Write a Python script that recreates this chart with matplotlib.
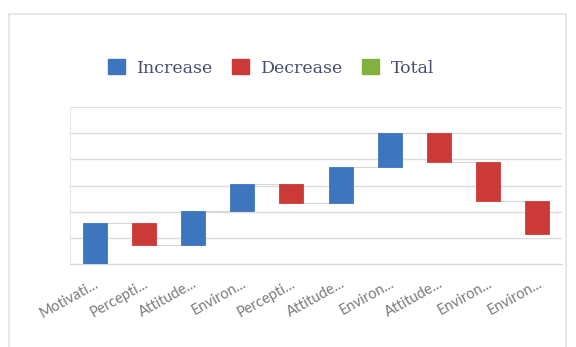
import matplotlib
matplotlib.use("Agg")
import matplotlib.pyplot as plt
from matplotlib.patches import Patch, Rectangle
import numpy as np

categories = ["Motivati...", "Percepti...", "Attitude...", "Environ...", "Percepti...",
              "Attitude...", "Environ...", "Attitude...", "Environ...", "Environ..."]
changes = [1.55, -0.83, 1.31, 1.02, -0.73, 1.39, 1.30, -1.13, -1.48, -1.27]
legend_labels = ["Increase", "Decrease", "Total"]

blue = "#3e75bf"
red = "#cc3a37"
green = "#82b140"

ends = np.cumsum(changes)
starts = ends - np.array(changes)
x = np.arange(len(categories))

fig = plt.figure(figsize=(5.76, 3.47), dpi=100)
fig.patch.set_facecolor("white")
fig.patches.append(Rectangle((9 / 576, -0.01), 557 / 576, 1 - 14 / 347 + 0.01,
                             transform=fig.transFigure, fill=False,
                             edgecolor="#e3e3e3", lw=1.2))

ax = fig.add_axes([70 / 576, 1 - 264 / 347, 492 / 576, 157 / 347])

for i, (s, c) in enumerate(zip(starts, changes)):
    col = blue if c > 0 else red
    ax.bar(x[i], c, bottom=s, width=0.49, color=col,
           edgecolor=col, linewidth=0.6, zorder=3)

# connectors between consecutive bars
for i in range(len(categories) - 1):
    ax.plot([x[i] + 0.245, x[i + 1] - 0.245], [ends[i], ends[i]],
            color="#d6d6d6", lw=0.8, zorder=2)

ax.set_xlim(-0.5, len(categories) - 0.5)
ax.set_ylim(0, 6)
ax.set_yticks(np.arange(0, 7))
ax.yaxis.grid(True, color="#dcdcdc", lw=1.0, zorder=0)
ax.tick_params(axis="y", left=False, labelleft=False)
ax.tick_params(axis="x", length=0, pad=9)
for side in ["top", "right"]:
    ax.spines[side].set_visible(False)
ax.spines["left"].set_color("#e8e8e8")
ax.spines["bottom"].set_color("#d6d6d6")

ax.set_xticks(x)
ax.set_xticklabels(categories, rotation=29, ha="right", va="top",
                   rotation_mode="anchor", fontsize=10.5, color="#7a7a7a",
                   family=["Lato", "DejaVu Sans"])

handles = [Patch(facecolor=blue, edgecolor=blue),
           Patch(facecolor=red, edgecolor=red),
           Patch(facecolor=green, edgecolor=green)]
fig.legend(handles, legend_labels, loc="center", bbox_to_anchor=(0.471, 0.805),
           ncol=3, frameon=False, handlelength=0.95, handleheight=1.0,
           handletextpad=0.7, columnspacing=1.1,
           prop={"family": "DejaVu Serif", "size": 12.5}, labelcolor="#46506e")

fig.savefig("out.png", dpi=100)
